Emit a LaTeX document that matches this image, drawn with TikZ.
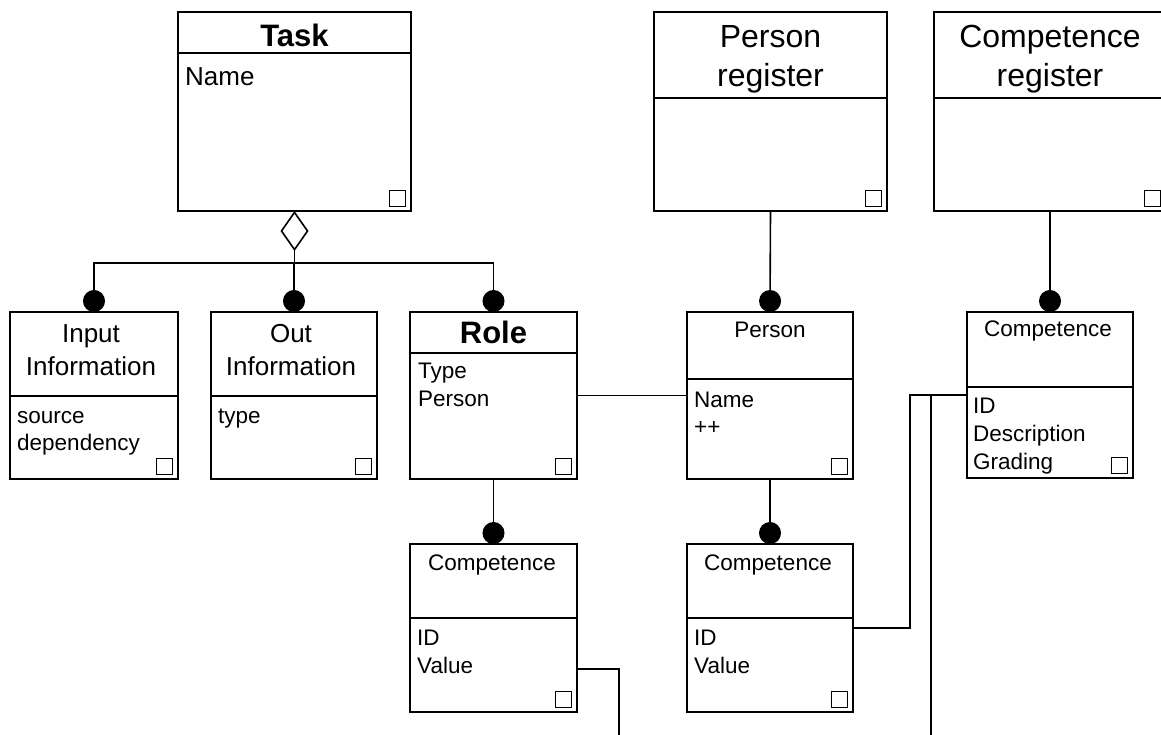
\documentclass[tikz,border=0pt]{standalone}
\usepackage{fontspec}
\setmainfont{Liberation Sans}
\usetikzlibrary{arrows.meta,calc}

\tikzset{
  box/.style={draw, line width=1.6pt, inner sep=0pt, outer sep=0pt, anchor=north west},
  tick/.style={draw, line width=1.4pt, minimum size=16pt, inner sep=0pt, anchor=south east},
  link/.style={line width=1.6pt},
  dotend/.style={-{Circle[length=22pt,width=22pt]}},
  bigtitle/.style={font=\fontsize{31}{38}\selectfont\bfseries, anchor=base, inner sep=0pt},
  regtitle/.style={font=\fontsize{32}{39}\selectfont, anchor=base, inner sep=0pt},
  midtitle/.style={font=\fontsize{26}{33}\selectfont, anchor=base, inner sep=0pt},
  smalltitle/.style={font=\fontsize{22.5}{28}\selectfont, anchor=base, inner sep=0pt},
  attr/.style={font=\fontsize{22.5}{28}\selectfont, anchor=base west, inner sep=0pt}
}

\begin{document}
\begin{tikzpicture}[x=1pt,y=-1pt]
\useasboundingbox (0,0) rectangle (1161,734);
\clip (0,0) rectangle (1161,734);

% boxes: name/left/top/right/bottom/divider
\foreach \n/\xa/\ya/\xb/\yb/\yd in {task/178/12/411/211/53, preg/654/12/887/211/98, creg/934/12/1166/211/98,
    inp/10/312/178/479/396, out/211/312/377/479/396, role/410/312/577/479/353,
    pers/687/312/853/479/379, comp/967/312/1133/478/387,
    rcomp/410/544/577/712/618, pcomp/687/544/853/712/618} {%
    \node[box, minimum width={(\xb-\xa)*1pt}, minimum height={(\yb-\ya)*1pt}] (\n) at (\xa,\ya) {};
    \draw[link] (\n.west |- 0,\yd) -- (\n.east |- 0,\yd);
    \node[tick] (\n-tick) at ([xshift=-5pt,yshift=4pt]\n.south east) {};
}

% titles
\node[bigtitle] (task-title) at (294.5,46) {Task};
\node[bigtitle] (role-title) at (493.5,343) {Role};
\node[regtitle] (preg-t1) at (770.5,47) {Person};
\node[regtitle] (preg-t2) at (770.5,86) {register};
\node[regtitle] (creg-t1) at (1050,47) {Competence};
\node[regtitle] (creg-t2) at (1050,86) {register};
\node[midtitle] (inp-t1) at (91,342) {Input};
\node[midtitle] (inp-t2) at (91,375) {Information};
\node[midtitle] (out-t1) at (291,342) {Out};
\node[midtitle] (out-t2) at (291,375) {Information};
\node[smalltitle] (pers-title) at (770,337) {Person};
\node[smalltitle] (comp-title) at (1048,336) {Competence};
\node[smalltitle] (rcomp-title) at (492,570) {Competence};
\node[smalltitle] (pcomp-title) at (768,570) {Competence};

% attributes
\node[attr, font=\fontsize{26}{33}\selectfont] (task-name) at (185,85) {Name};
\foreach \x/\y/\t [count=\i] in {17/423/source, 17/450/dependency, 218/423/type, 418/378/Type, 418/406/Person,
    694/407/Name, 694/434/++, 973/413/ID, 973/441/Description, 973/469/Grading,
    417/645/ID, 417/673/Value, 694/645/ID, 694/673/Value}
    \node[attr] (attr-\i) at (\x,\y) {\t};

% aggregation
\coordinate (hub) at (task.south |- 0,263);
\draw[link, -{Diamond[open,length=40pt,width=28pt]}] (hub) -- (task.south);
\foreach \b in {inp,out,role}
    \draw[link, dotend] (hub) -| (\b.north);

% compositions
\draw[link, dotend] (preg.south) -- (pers.north);
\draw[link, dotend] (creg.south) -- (comp.north);
\draw[link, dotend] (role.south) -- (rcomp.north);
\draw[link, dotend] (pers.south) -- (pcomp.north);

% associations
\draw[link] (role.east) -- (pers.west);
\coordinate (jog) at (910,395);
\draw[link] (pcomp.east) -| (jog) -- (comp.west);
\coordinate (cend) at (931,740);
\draw[link] (comp.west) -| (cend);
\coordinate (rcend) at (619,740);
\draw[link] ([yshift=-41pt]rcomp.east) -| (rcend);
\end{tikzpicture}
\end{document}
